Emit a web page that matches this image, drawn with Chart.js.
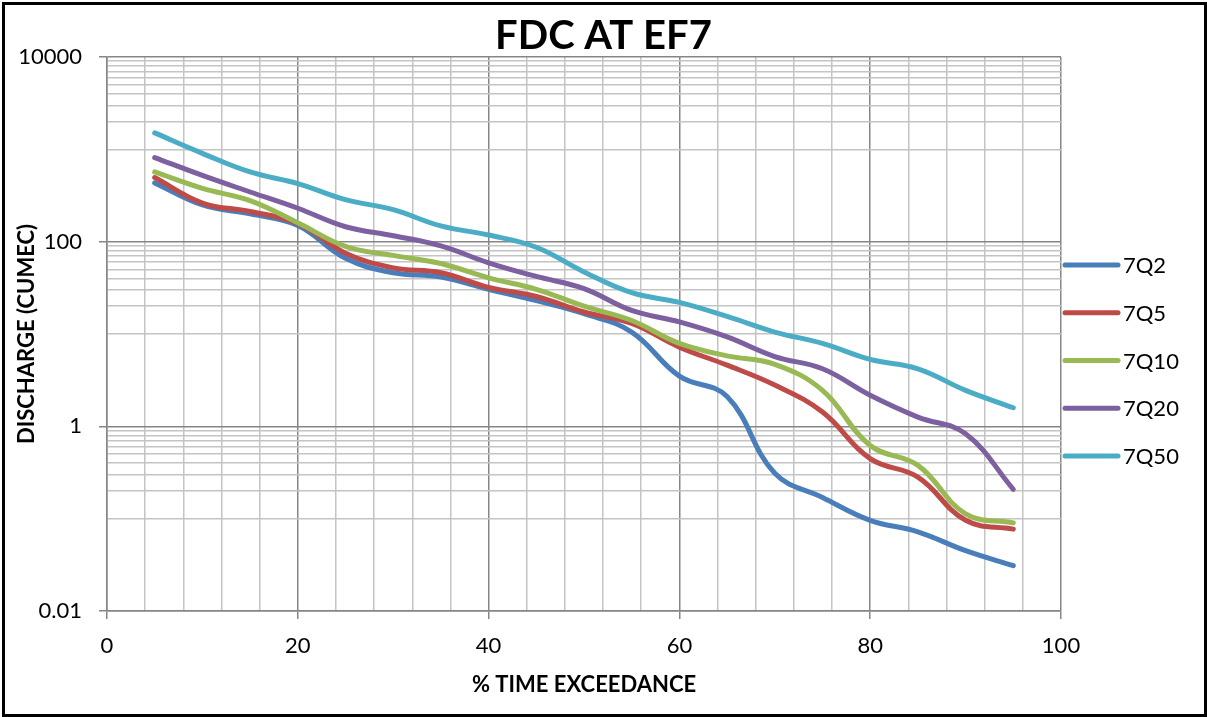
<!DOCTYPE html>
<html>
<head>
<meta charset="utf-8">
<title>FDC AT EF7</title>
<script src="https://cdn.jsdelivr.net/npm/chart.js@4/dist/chart.umd.min.js"></script>
<style>
  html, body { margin: 0; padding: 0; background: #ffffff; }
  #wrap { width: 1207px; height: 717px; position: relative; }
</style>
</head>
<body>
<div id="wrap"><canvas id="fdc" width="1207" height="717"></canvas></div>
<script>
// % time exceedance at which each flow is given
const exceedance = [5, 10, 15, 20, 25, 30, 35, 40, 45, 50, 55, 60, 65, 70, 75, 80, 85, 90, 95];

// Discharge (cumec) for each 7-day low-flow series
const q7_2  = [433, 250, 200, 150, 66, 46, 41.5, 30.5, 23, 16.6, 10.5, 3.5, 2.1, 0.31, 0.17, 0.096, 0.072, 0.045, 0.031];
const q7_5  = [495, 262, 212, 157, 75, 52, 46, 32, 25.5, 17.3, 13, 7.2, 4.6, 2.8, 1.43, 0.447, 0.282, 0.096, 0.077];
const q7_10 = [569, 378, 278, 160, 89, 71, 58, 40.5, 30.5, 20, 14, 7.9, 5.8, 4.7, 2.45, 0.62, 0.378, 0.113, 0.09];
const q7_20 = [815, 522, 345, 230, 145, 116, 90, 59, 42, 31, 18, 13.5, 9.3, 5.7, 4.2, 2.17, 1.26, 0.83, 0.208];
const q7_50 = [1506, 905, 569, 426, 285, 222, 148, 118, 87, 47, 28, 22, 15.5, 10.5, 7.9, 5.3, 4.2, 2.45, 1.59];

const seriesNames  = ['7Q2', '7Q5', '7Q10', '7Q20', '7Q50'];
const seriesValues = [q7_2, q7_5, q7_10, q7_20, q7_50];
const seriesColors = ['#4a7ebb', '#be4b48', '#98b954', '#7d60a0', '#4bacc6'];

// Axis ticks
const xTickStep = 4;
const xLabelEvery = 20;
const yMajorValues = [0.01, 1, 100, 10000];
const yMajorLabels = ['0.01', '1', '100', '10000'];
// minor gridlines: 1..9 times the decade just below each major
const yMinorDecades = [0.1, 10, 1000];

const FONT = 'Lato';
const MAJOR_GRID = '#868686';
const MINOR_GRID = '#c4c4c4';

function buildYTicks() {
  const vals = yMajorValues.slice();
  yMinorDecades.forEach(d => {
    for (let k = 1; k <= 9; k++) vals.push(d >= 1 ? d * k : k / Math.round(1 / d));
  });
  return vals.sort((a, b) => a - b);
}
const isYMajor = v => yMajorValues.indexOf(v) !== -1;

const datasets = seriesNames.map((name, s) => ({
  label: name,
  data: exceedance.map((x, i) => ({ x: x, y: seriesValues[s][i] })),
  borderColor: seriesColors[s],
  backgroundColor: seriesColors[s],
  borderWidth: 5,
  borderCapStyle: 'round',
  borderJoinStyle: 'round',
  pointRadius: 0,
  tension: 0.4,
  fill: false,
  yAxisID: 'y',
  order: seriesNames.length - s
}));

// Legend at the right, line samples with labels
const sideLegend = {
  id: 'sideLegend',
  afterDraw(chart) {
    const { ctx, chartArea } = chart;
    const step = 47.75;
    const n = seriesNames.length;
    const cy = chart.height / 2 + 2;
    const x0 = chartArea.right + 2;
    ctx.save();
    ctx.font = '22px ' + FONT;
    ctx.textBaseline = 'middle';
    ctx.textAlign = 'left';
    seriesNames.forEach((name, i) => {
      const y = cy + (i - (n - 1) / 2) * step;
      ctx.strokeStyle = seriesColors[i];
      ctx.lineWidth = 5;
      ctx.lineCap = 'round';
      ctx.beginPath();
      ctx.moveTo(x0 + 2, y);
      ctx.lineTo(x0 + 55, y);
      ctx.stroke();
      ctx.fillStyle = '#000';
      ctx.fillText(name, x0 + 60, y + 1);
    });
    ctx.restore();
  }
};

// Black frame round the whole chart
const outerFrame = {
  id: 'outerFrame',
  afterDraw(chart) {
    const { ctx } = chart;
    ctx.save();
    ctx.strokeStyle = '#000';
    ctx.lineWidth = 3;
    ctx.strokeRect(3.5, 3.5, chart.width - 5, chart.height - 5);
    ctx.restore();
  }
};

new Chart(document.getElementById('fdc'), {
  type: 'line',
  data: { datasets: datasets },
  plugins: [sideLegend, outerFrame],
  options: {
    responsive: false,
    animation: false,
    devicePixelRatio: 1,
    layout: { padding: 0 },
    plugins: {
      legend: { display: false },
      tooltip: { enabled: false },
      title: {
        display: true,
        text: 'FDC AT EF7',
        color: '#000',
        font: { family: FONT, size: 40, weight: 'bold', lineHeight: 1 },
        padding: { top: 16, bottom: 1 }
      }
    },
    scales: {
      x: {
        type: 'linear',
        min: 0,
        max: 100,
        afterFit(scale) { scale.height = 106; },
        ticks: {
          stepSize: xTickStep,
          autoSkip: false,
          maxRotation: 0,
          padding: 14,
          color: '#000',
          font: { family: FONT, size: 22 },
          callback: v => (v % xLabelEvery === 0 ? String(v) : '')
        },
        grid: {
          color: c => (c.tick && c.tick.value % xLabelEvery === 0 ? MAJOR_GRID : MINOR_GRID),
          lineWidth: 1.5,
          tickLength: 8,
          tickColor: c => (c.tick && c.tick.value % xLabelEvery === 0 ? MAJOR_GRID : 'rgba(0,0,0,0)')
        },
        border: { color: MAJOR_GRID, width: 1.5 },
        title: {
          display: true,
          text: '% TIME EXCEEDANCE',
          color: '#000',
          font: { family: FONT, size: 22, weight: 'bold', lineHeight: 1.2 },
          padding: { top: 0, bottom: 19 }
        }
      },
      y: {
        type: 'logarithmic',
        position: 'left',
        min: 0.01,
        max: 10000,
        afterFit(scale) { scale.width = 107; },
        afterBuildTicks(scale) {
          scale.ticks = buildYTicks().map(v => ({ value: v, major: isYMajor(v) }));
        },
        ticks: {
          autoSkip: false,
          padding: 17,
          color: '#000',
          font: { family: FONT, size: 22 },
          callback: v => {
            const i = yMajorValues.indexOf(v);
            return i === -1 ? '' : yMajorLabels[i];
          }
        },
        grid: {
          color: c => (c.tick && isYMajor(c.tick.value) ? MAJOR_GRID : MINOR_GRID),
          lineWidth: 1.5,
          tickLength: 8,
          tickColor: c => (c.tick && isYMajor(c.tick.value) ? MAJOR_GRID : 'rgba(0,0,0,0)')
        },
        border: { color: MAJOR_GRID, width: 1.5 },
        title: {
          display: true,
          text: 'DISCHARGE (CUMEC)',
          color: '#000',
          font: { family: FONT, size: 22, weight: 'bold', lineHeight: 1.2 },
          padding: { top: 14, bottom: 0 }
        }
      },
      // empty right-hand band that holds the series legend
      legendBand: {
        type: 'linear',
        position: 'right',
        display: true,
        afterFit(scale) { scale.width = 146; },
        ticks: { display: false },
        grid: { display: false, drawTicks: false },
        border: { display: false },
        title: { display: false }
      }
    }
  }
});
</script>
</body>
</html>
